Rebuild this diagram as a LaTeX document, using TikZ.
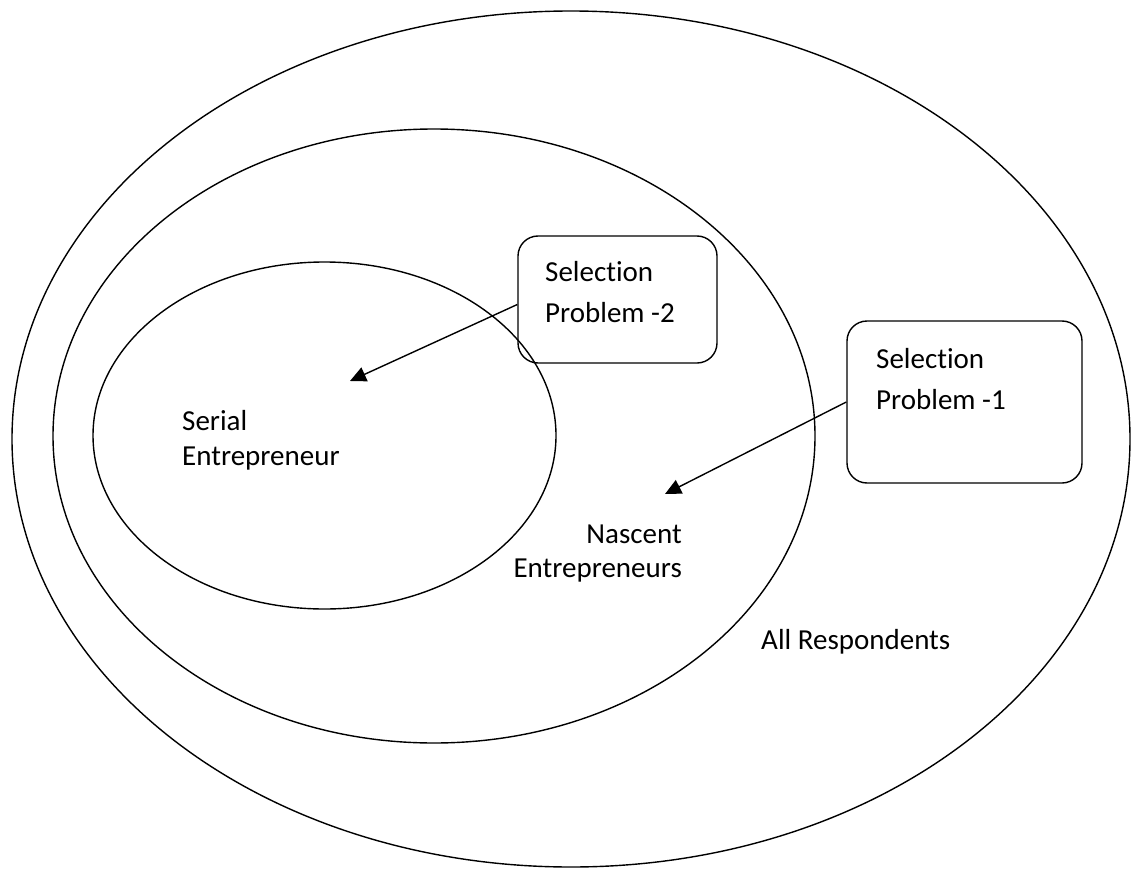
\documentclass[tikz,border=0pt]{standalone}
\usepackage{fontspec}
\setmainfont{Carlito}[Ligatures={NoCommon}]
\usetikzlibrary{arrows.meta,calc,shapes.geometric}
\begin{document}
\begin{tikzpicture}[x=1pt,y=-1pt,
  ring/.style={draw=black,line width=1.4pt},
  selbox/.style={draw=black,line width=1.4pt,rounded corners=20pt,rectangle,inner sep=0pt},
  lbl/.style={inner sep=0pt,font=\fontsize{29}{35}\selectfont},
  pointer/.style={draw=black,line width=1.4pt,-{Triangle[length=16pt,width=15pt]}}]
\useasboundingbox (0,0) rectangle (1131,869);
% ellipses
\node[ring,ellipse,minimum width=1118pt,minimum height=856pt,inner sep=0pt] (all) at (571,439) {};
\node[ring,ellipse,minimum width=762pt,minimum height=614pt,inner sep=0pt] (nasc) at (434,436) {};
\node[ring,ellipse,minimum width=463pt,minimum height=347pt,inner sep=0pt] (serial) at (324.5,435.5) {};
% boxes
\node[selbox,minimum width=199pt,minimum height=127pt] (sp2) at (617.5,299.5) {};
\node[selbox,minimum width=235pt,minimum height=162pt] (sp1) at (964.5,402) {};
% box texts
\node[lbl,anchor=base west] (sp2a) at (545,281) {Selection};
\node[lbl,anchor=base west] (sp2b) at (545,322) {Problem -2};
\node[lbl,anchor=base west] (sp1a) at (876,368) {Selection};
\node[lbl,anchor=base west] (sp1b) at (876,409) {Problem -1};
% set labels
\node[lbl,anchor=base west] (sera) at (182,430) {Serial};
\node[lbl,anchor=base west] (serb) at (182,465) {Entrepreneur};
\node[lbl,anchor=base east] (nasa) at (682,543) {Nascent};
\node[lbl,anchor=base east] (nasb) at (682,577) {Entrepreneurs};
\node[lbl,anchor=base west] (allr) at (761,649) {All Respondents};
% arrows
\coordinate (t2) at (350,381);
\coordinate (t1) at (665,494);
\draw[pointer] ([yshift=-5pt]sp2.west) -- (t2);
\draw[pointer] (sp1.west) -- (t1);
\end{tikzpicture}
\end{document}
